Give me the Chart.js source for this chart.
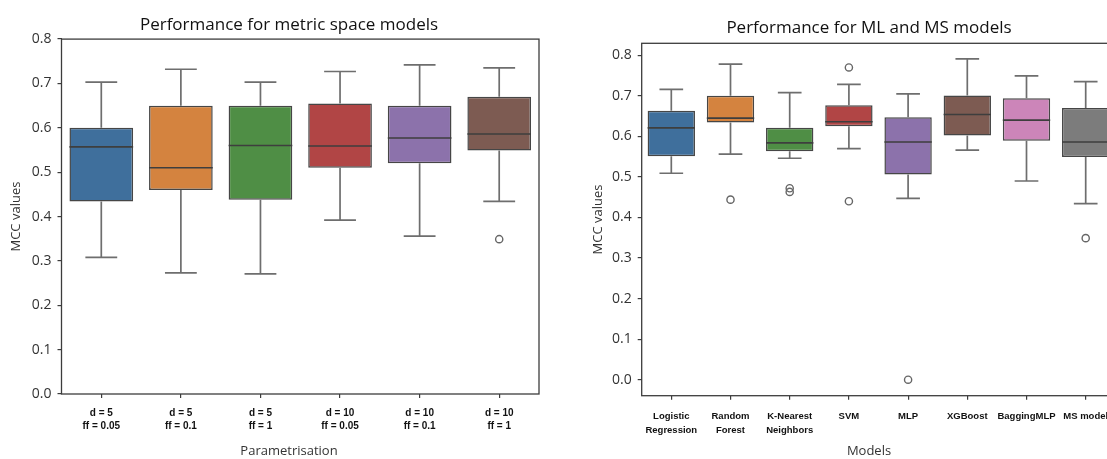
<!DOCTYPE html>
<html>
<head>
<meta charset="utf-8">
<script src="https://cdn.jsdelivr.net/npm/chart.js@4.4.1/dist/chart.umd.min.js"></script>
<style>
    html, body { margin: 0; padding: 0; background: #fff; overflow: hidden; }
    #wrap { position: relative; width: 1107px; height: 459px; overflow: hidden; }
    #leftBox { position: absolute; left: 0; top: 0; width: 578px; height: 459px; }
    #rightBox { position: absolute; left: 590px; top: 0; width: 558px; height: 459px; }
</style>
</head>
<body>
<div id="wrap">
    <div id="leftBox"><canvas id="paramChart"></canvas></div>
    <div id="rightBox"><canvas id="modelChart"></canvas></div>
</div>
<script>
// metric space models, one box per parametrisation
const paramLabels = [['d = 5', 'ff = 0.05'], ['d = 5', 'ff = 0.1'], ['d = 5', 'ff = 1'], ['d = 10', 'ff = 0.05'], ['d = 10', 'ff = 0.1'], ['d = 10', 'ff = 1']];
const paramMin = [0.308, 0.273, 0.271, 0.392, 0.356, 0.434];
const paramQ1 = [0.434, 0.460, 0.438, 0.510, 0.520, 0.549];
const paramMedian = [0.557, 0.510, 0.560, 0.559, 0.577, 0.586];
const paramQ3 = [0.600, 0.650, 0.650, 0.655, 0.650, 0.670];
const paramMax = [0.703, 0.732, 0.703, 0.727, 0.742, 0.735];
const paramOutliers = [[], [], [], [], [], [0.349]];

// ML and MS models
const modelLabels = [['Logistic', 'Regression'], ['Random', 'Forest'], ['K-Nearest', 'Neighbors'], 'SVM', 'MLP', 'XGBoost', 'BaggingMLP', 'MS model'];
const modelMin = [0.509, 0.556, 0.546, 0.570, 0.447, 0.566, 0.490, 0.434];
const modelQ1 = [0.551, 0.634, 0.563, 0.625, 0.506, 0.602, 0.589, 0.549];
const modelMedian = [0.621, 0.645, 0.584, 0.636, 0.586, 0.654, 0.640, 0.586];
const modelQ3 = [0.663, 0.700, 0.621, 0.677, 0.647, 0.701, 0.694, 0.670];
const modelMax = [0.716, 0.778, 0.708, 0.728, 0.705, 0.791, 0.749, 0.735];
const modelOutliers = [[], [0.444], [0.472, 0.463], [0.770, 0.440], [0.0], [], [], [0.349]];

const boxColours = ['#3f6f9c', '#d4833f', '#4f8e45', '#b14545', '#8c72ab', '#7d5b52', '#cc85b9', '#7c7c7c'];
const textFont = "'Open Sans', 'Noto Sans', sans-serif";

// whiskers, caps and medians, drawn with the chart's own y scale
const boxWhiskers = {
    id: 'boxWhiskers',
    afterDatasetsDraw: function (chart) {
        const ctx = chart.ctx;
        const yScale = chart.scales.y;
        const box = chart.data.datasets[0];
        ctx.save();
        ctx.lineCap = 'butt';
        chart.getDatasetMeta(0).data.forEach(function (bar, i) {
            const props = bar.getProps(['x', 'width'], true);
            const x = props.x;
            const half = props.width / 2;
            const yMin = yScale.getPixelForValue(box.whiskerMin[i]);
            const yMax = yScale.getPixelForValue(box.whiskerMax[i]);
            const yQ1 = yScale.getPixelForValue(box.data[i][0]);
            const yQ3 = yScale.getPixelForValue(box.data[i][1]);
            const yMed = yScale.getPixelForValue(box.median[i]);

            ctx.strokeStyle = '#6e6e6e';
            ctx.lineWidth = 1.7;
            ctx.beginPath();
            ctx.moveTo(x, yQ3); ctx.lineTo(x, yMax);
            ctx.moveTo(x - half / 2, yMax); ctx.lineTo(x + half / 2, yMax);
            ctx.moveTo(x, yQ1); ctx.lineTo(x, yMin);
            ctx.moveTo(x - half / 2, yMin); ctx.lineTo(x + half / 2, yMin);
            ctx.stroke();

            ctx.strokeStyle = '#3e3e3e';
            ctx.lineWidth = 1.6;
            ctx.beginPath();
            ctx.moveTo(x - half, yMed); ctx.lineTo(x + half, yMed);
            ctx.stroke();
        });
        ctx.restore();
    }
};

// full frame round the plot
const plotFrame = {
    id: 'plotFrame',
    afterDraw: function (chart) {
        const a = chart.chartArea;
        const ctx = chart.ctx;
        ctx.save();
        ctx.strokeStyle = '#3c3c3c';
        ctx.lineWidth = 1.3;
        ctx.strokeRect(a.left, a.top, a.right - a.left, a.bottom - a.top);
        ctx.restore();
    }
};

const buildBoxChart = function (canvasId, setup) {
    const datasets = [{
        type: 'bar',
        yAxisID: 'y',
        data: setup.q1.map((q, i) => [q, setup.q3[i]]),
        backgroundColor: boxColours.slice(0, setup.labels.length),
        borderColor: '#464646',
        borderWidth: 1.5,
        borderSkipped: false,
        categoryPercentage: 0.8,
        barPercentage: 1.0,
        whiskerMin: setup.min,
        whiskerMax: setup.max,
        median: setup.median
    }];

    const most = Math.max.apply(null, setup.outliers.map(o => o.length));
    for (let k = 0; k < most; k++) {
        datasets.push({
            type: 'line',
            yAxisID: 'y',
            data: setup.outliers.map(o => o.length > k ? o[k] : null),
            showLine: false,
            pointRadius: 3.6,
            pointBackgroundColor: 'rgba(255,255,255,0)',
            pointBorderColor: '#666666',
            pointBorderWidth: 1.4
        });
    }

    const ctx = document.getElementById(canvasId).getContext('2d');
    return new Chart(ctx, {
        type: 'bar',
        data: { labels: setup.labels, datasets: datasets },
        plugins: [boxWhiskers, plotFrame],
        options: {
            responsive: true,
            maintainAspectRatio: false,
            animation: false,
            layout: { padding: 0 },
            plugins: {
                legend: { display: false },
                tooltip: { enabled: false },
                title: {
                    display: true,
                    text: setup.title,
                    color: '#111',
                    font: { family: textFont, size: 17, weight: 'normal' },
                    padding: setup.titlePadding
                },
                subtitle: {
                    display: true,
                    position: 'bottom',
                    text: setup.xTitle,
                    color: '#333',
                    font: { family: textFont, size: 13, weight: 'normal' },
                    padding: { top: 8, bottom: 0 }
                }
            },
            scales: {
                y: {
                    type: 'linear',
                    position: 'left',
                    min: setup.yMin,
                    max: setup.yMax,
                    grid: { display: true, drawOnChartArea: false, tickLength: 4, color: '#3c3c3c', lineWidth: 1.2 },
                    border: { display: false },
                    ticks: {
                        stepSize: 0.1,
                        includeBounds: false,
                        padding: 6,
                        color: '#333',
                        font: { family: textFont, size: 14 },
                        callback: v => Number(v).toFixed(1)
                    },
                    title: {
                        display: true,
                        text: 'MCC values',
                        color: '#333',
                        font: { family: textFont, size: 13 },
                        padding: { top: setup.yTitlePad, bottom: 0 }
                    },
                    afterFit: function (scale) { scale.width = setup.yWidth; }
                },
                yPad: {
                    type: 'linear',
                    position: 'right',
                    display: true,
                    grid: { display: false },
                    border: { display: false },
                    ticks: { display: false },
                    afterFit: function (scale) { scale.width = setup.rightPad; }
                },
                x: {
                    type: 'category',
                    offset: true,
                    grid: { display: true, drawOnChartArea: false, offset: false, tickLength: 4, color: '#3c3c3c', lineWidth: 1.2 },
                    border: { display: false },
                    ticks: {
                        color: '#111',
                        maxRotation: 0,
                        autoSkip: false,
                        padding: setup.xTickPad,
                        font: { family: "'Liberation Sans', Arial, sans-serif", size: setup.xTickSize, weight: 'bold', lineHeight: setup.xTickLine }
                    },
                    afterFit: function (scale) { scale.height = setup.xHeight; }
                }
            }
        }
    });
};

buildBoxChart('paramChart', {
    labels: paramLabels, min: paramMin, q1: paramQ1, median: paramMedian, q3: paramQ3, max: paramMax, outliers: paramOutliers,
    title: 'Performance for metric space models', xTitle: 'Parametrisation',
    titlePadding: { top: 14.8, bottom: 3.9 },
    yMin: 0, yMax: 0.8, yWidth: 61.5, yTitlePad: 8.7, rightPad: 39,
    xHeight: 41.4, xTickPad: 8, xTickSize: 10, xTickLine: 1.35
});

buildBoxChart('modelChart', {
    labels: modelLabels, min: modelMin, q1: modelQ1, median: modelMedian, q3: modelQ3, max: modelMax, outliers: modelOutliers,
    title: 'Performance for ML and MS models', xTitle: 'Models',
    titlePadding: { top: 18.3, bottom: 4.6 },
    yMin: -0.0395, yMax: 0.8295, yWidth: 51.7, yTitlePad: 0, rightPad: 32.7,
    xHeight: 39.7, xTickPad: 10, xTickSize: 9.5, xTickLine: 1.42
});
</script>
</body>
</html>
